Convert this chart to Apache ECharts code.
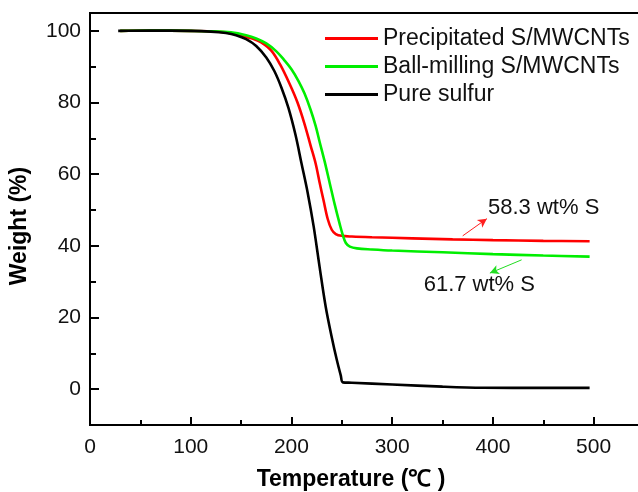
<!DOCTYPE html>
<html>
<head>
<meta charset="utf-8">
<script src="https://cdn.jsdelivr.net/npm/echarts@6/dist/echarts.min.js"></script>
<style>
  html, body { margin: 0; padding: 0; background: #fff; }
  #chart { width: 638px; height: 492px; }
</style>
</head>
<body>
<div id="chart"></div>
<script>
// TGA curves (temperature in C, weight in %)
const seriesNames = ['Precipitated S/MWCNTs', 'Ball-milling S/MWCNTs', 'Pure sulfur']

const redTemp = [30, 60, 100, 120, 135, 145, 155, 162, 170, 180, 189, 198, 206, 213, 219, 224, 228, 232, 236, 240, 244, 250, 260, 280, 320, 360, 400, 450, 496]
const redWeight = [100, 100.1, 100, 99.9, 99.6, 99.1, 98.3, 97.8, 96.8, 94.5, 90.5, 85.3, 80, 74, 68, 63, 57.6, 52.5, 47.5, 44.5, 43.3, 42.8, 42.6, 42.4, 42.1, 41.8, 41.6, 41.4, 41.3]

const greenTemp = [30, 60, 100, 120, 140, 155, 165, 175, 185, 193, 200, 207, 213, 219, 224, 228, 233, 238, 243, 248, 251, 254, 258, 265, 280, 300, 350, 400, 450, 496]
const greenWeight = [100, 100.1, 100, 99.9, 99.6, 98.8, 97.9, 96.5, 94.3, 91.8, 89.3, 86, 82.5, 78, 73.5, 69, 63.5, 57.5, 51.5, 46, 43, 40.8, 39.8, 39.3, 39.0, 38.7, 38.2, 37.7, 37.3, 37.0]

const blackTemp = [28, 60, 100, 120, 135, 145, 155, 165, 175, 183, 190, 197, 204, 210, 216, 222, 228, 234, 240, 245, 249, 251, 260, 300, 350, 390, 450, 496]
const blackWeight = [100, 100.1, 100, 99.8, 99.4, 98.8, 97.7, 95.8, 92.6, 88.8, 84.2, 78.5, 71.0, 63.0, 55.0, 45.5, 34, 23, 14.5, 8.2, 3.8, 1.9, 1.8, 1.3, 0.7, 0.4, 0.35, 0.35]

// axis ticks
const xMin = 0, xMax = 550
const xMajor = [0, 100, 200, 300, 400, 500]
const xMinor = [50, 150, 250, 350, 450, 550]
const yMin = -10, yMax = 105
const yMajor = [0, 20, 40, 60, 80, 100]
const yMinor = [10, 30, 50, 70, 90]

// annotations: arrow start/end and label anchor
const redArrow = [[370, 42.8], [394, 47.6]]
const redNote = { text: '58.3 wt% S', at: [450.4, 50.6] }
const greenArrow = [[428.5, 36.1], [397, 32.4]]
const greenNote = { text: '61.7 wt% S', at: [386.5, 29.2] }

const FONT = '"Liberation Sans", Arial, sans-serif'

function pairs(xs, ys) {
  return xs.map((x, i) => [x, ys[i]])
}

function arrowLine(pts, color) {
  return {
    silent: true,
    symbol: ['none', 'arrow'],
    symbolSize: [7, 9],
    lineStyle: { color, width: 1, type: 'solid' },
    label: { show: false },
    data: [[{ coord: pts[0] }, { coord: pts[1] }]]
  }
}

function note(n) {
  return {
    silent: true,
    symbol: 'circle',
    symbolSize: 0,
    label: {
      show: true,
      position: 'inside',
      formatter: n.text,
      color: '#111',
      fontSize: 22,
      fontFamily: FONT
    },
    data: [{ coord: n.at }]
  }
}

function lineSeries(name, xs, ys, color, extra) {
  return Object.assign({
    name,
    type: 'line',
    data: pairs(xs, ys),
    showSymbol: false,
    smooth: 0.35,
    lineStyle: { color, width: 2.6 },
    itemStyle: { color },
    animation: false
  }, extra || {})
}

const chart = echarts.init(document.getElementById('chart'))

const black2 = { color: '#000', width: 2 }

chart.setOption({
  backgroundColor: '#fff',
  animation: false,
  grid: {
    left: 90, top: 13, right: -6, bottom: 67,
    outerBoundsMode: 'none',
    show: true, borderColor: '#000', borderWidth: 2
  },
  legend: {
    orient: 'vertical',
    left: 325,
    top: 27,
    padding: 0,
    icon: 'rect',
    itemWidth: 53,
    itemHeight: 3,
    itemGap: 5,
    textStyle: { fontSize: 23, fontFamily: FONT, color: '#111', lineHeight: 22 },
    data: seriesNames
  },
  xAxis: [{
    type: 'value',
    min: xMin, max: xMax,
    axisLine: { onZero: false, lineStyle: black2 },
    axisTick: { inside: true, length: 8, customValues: xMajor, lineStyle: black2 },
    splitLine: { show: false },
    axisLabel: { customValues: xMajor, margin: 12, fontSize: 21, fontFamily: FONT, color: '#111' }
  }, {
    type: 'value',
    position: 'bottom',
    min: xMin, max: xMax,
    axisLine: { show: false, onZero: false },
    axisTick: { inside: true, length: 5, customValues: xMinor, lineStyle: black2 },
    splitLine: { show: false },
    axisLabel: { show: false }
  }],
  yAxis: [{
    type: 'value',
    min: yMin, max: yMax,
    axisLine: { onZero: false, lineStyle: black2 },
    axisTick: { inside: true, length: 9, customValues: yMajor, lineStyle: black2 },
    splitLine: { show: false },
    axisLabel: { customValues: yMajor, margin: 9, fontSize: 21, fontFamily: FONT, color: '#111' }
  }, {
    type: 'value',
    position: 'left',
    min: yMin, max: yMax,
    axisLine: { show: false, onZero: false },
    axisTick: { inside: true, length: 6, customValues: yMinor, lineStyle: black2 },
    splitLine: { show: false },
    axisLabel: { show: false }
  }],
  graphic: [{
    type: 'text',
    x: 351, y: 480,
    style: {
      text: 'Temperature (℃ )',
      align: 'center', verticalAlign: 'middle',
      fontSize: 23, fontWeight: 'bold', fontFamily: FONT, fill: '#000'
    }
  }, {
    type: 'text',
    x: 20, y: 226,
    rotation: Math.PI / 2,
    style: {
      text: 'Weight (%)',
      align: 'center', verticalAlign: 'middle',
      fontSize: 23, fontWeight: 'bold', fontFamily: FONT, fill: '#000'
    }
  }],
  series: [
    lineSeries(seriesNames[0], redTemp, redWeight, '#ff0000', {
      markLine: arrowLine(redArrow, '#ff2020'),
      markPoint: note(redNote)
    }),
    lineSeries(seriesNames[1], greenTemp, greenWeight, '#00ee00', {
      markLine: arrowLine(greenArrow, '#22dd22'),
      markPoint: note(greenNote)
    }),
    lineSeries(seriesNames[2], blackTemp, blackWeight, '#000000')
  ]
})
</script>
</body>
</html>
